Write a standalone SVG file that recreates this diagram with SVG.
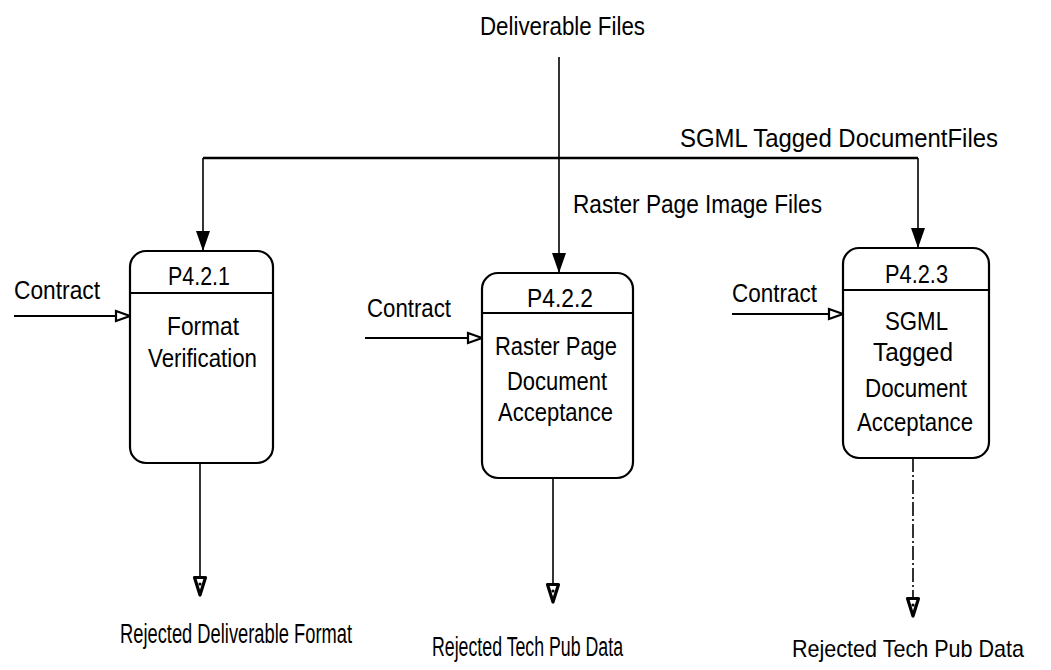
<svg xmlns="http://www.w3.org/2000/svg" width="1051" height="670" viewBox="0 0 1051 670">
<style>
.t{font-family:"Liberation Sans",Arial,sans-serif;font-size:25px;fill:#000}
.b{font-size:27px}
.s{font-size:24px}
.box{fill:#fff;stroke:#000;stroke-width:2.2}
.div{stroke:#000;stroke-width:2}
.c{fill:none;stroke:#000;stroke-width:1.6}
.h{fill:none;stroke:#000;stroke-width:2.6}
</style>
<defs>
<marker id="fill" markerUnits="userSpaceOnUse" markerWidth="22" markerHeight="16" refX="20" refY="7" orient="auto" overflow="visible">
<path d="M0,0 L20,7 L0,14 z" fill="#000"/>
</marker>
<marker id="open" markerUnits="userSpaceOnUse" markerWidth="18" markerHeight="14" refX="15" refY="6" orient="auto" overflow="visible">
<path d="M1,1 L15,6 L1,11 z" fill="#fff" stroke="#000" stroke-width="2.2"/>
</marker>
<marker id="openD" markerUnits="userSpaceOnUse" markerWidth="22" markerHeight="16" refX="19" refY="7" orient="auto" overflow="visible">
<path d="M1.5,1.5 L19,7 L1.5,12.5 z" fill="#fff" stroke="#000" stroke-width="3.2" stroke-linejoin="round"/>
<circle cx="8" cy="7" r="1.6" fill="#000"/>
</marker>
</defs>

<g id="connectors">
<line class="c" x1="559" y1="57" x2="559" y2="273" marker-end="url(#fill)"/>
<polyline class="h" points="918,158 203,158"/>
<line class="c" x1="203" y1="158" x2="203" y2="251" marker-end="url(#fill)"/>
<line class="c" x1="918" y1="158" x2="918" y2="248" marker-end="url(#fill)"/>
<line class="c" x1="14" y1="316" x2="130" y2="316" marker-end="url(#open)" style="stroke-width:2.2"/>
<line class="c" x1="365" y1="338" x2="482" y2="338" marker-end="url(#open)" style="stroke-width:2.2"/>
<line class="c" x1="732" y1="314" x2="843" y2="314" marker-end="url(#open)" style="stroke-width:2.2"/>
<line class="c" x1="200" y1="463" x2="200" y2="595" marker-end="url(#openD)"/>
<line class="c" x1="553" y1="478" x2="553" y2="602" marker-end="url(#openD)"/>
<line class="c" x1="913" y1="458" x2="913" y2="616" marker-end="url(#openD)" stroke-dasharray="14 3 2 3"/>
<text class="t" x="480" y="35" textLength="165" lengthAdjust="spacingAndGlyphs">Deliverable Files</text>
<text class="t" x="680" y="147" textLength="318" lengthAdjust="spacingAndGlyphs">SGML Tagged DocumentFiles</text>
<text class="t" x="573" y="213" textLength="249" lengthAdjust="spacingAndGlyphs">Raster Page Image Files</text>
<text class="t" x="14" y="299" textLength="86" lengthAdjust="spacingAndGlyphs">Contract</text>
<text class="t" x="367" y="317" textLength="84" lengthAdjust="spacingAndGlyphs">Contract</text>
<text class="t" x="732" y="302" textLength="85" lengthAdjust="spacingAndGlyphs">Contract</text>
<text class="t b" x="120" y="643" textLength="232" lengthAdjust="spacingAndGlyphs">Rejected Deliverable Format</text>
<text class="t b" x="432" y="656" textLength="191" lengthAdjust="spacingAndGlyphs">Rejected Tech Pub Data</text>
<text class="t s" x="792" y="657" textLength="232" lengthAdjust="spacingAndGlyphs">Rejected Tech Pub Data</text>
</g>

<g id="P4.2.1">
<rect class="box" x="130" y="251" width="143" height="212" rx="16"/>
<line class="div" x1="130" y1="293" x2="273" y2="293"/>
<text class="t" x="168" y="285" textLength="62" lengthAdjust="spacingAndGlyphs">P4.2.1</text>
<text class="t" x="167" y="335" textLength="72" lengthAdjust="spacingAndGlyphs">Format</text>
<text class="t" x="148" y="367" textLength="109" lengthAdjust="spacingAndGlyphs">Verification</text>
</g>

<g id="P4.2.2">
<rect class="box" x="482" y="273" width="151" height="205" rx="16"/>
<line class="div" x1="482" y1="313" x2="633" y2="313"/>
<text class="t" x="527" y="307" textLength="66" lengthAdjust="spacingAndGlyphs">P4.2.2</text>
<text class="t" x="495" y="355" textLength="122" lengthAdjust="spacingAndGlyphs">Raster Page</text>
<text class="t" x="507" y="390" textLength="100" lengthAdjust="spacingAndGlyphs">Document</text>
<text class="t" x="498" y="421" textLength="115" lengthAdjust="spacingAndGlyphs">Acceptance</text>
</g>

<g id="P4.2.3">
<rect class="box" x="843" y="248" width="146" height="210" rx="16"/>
<line class="div" x1="843" y1="290" x2="989" y2="290"/>
<text class="t" x="885" y="283" textLength="63" lengthAdjust="spacingAndGlyphs">P4.2.3</text>
<text class="t" x="885" y="330" textLength="63" lengthAdjust="spacingAndGlyphs">SGML</text>
<text class="t" x="873" y="361" textLength="80" lengthAdjust="spacingAndGlyphs">Tagged</text>
<text class="t" x="865" y="397" textLength="102" lengthAdjust="spacingAndGlyphs">Document</text>
<text class="t" x="857" y="431" textLength="116" lengthAdjust="spacingAndGlyphs">Acceptance</text>
</g>
</svg>
